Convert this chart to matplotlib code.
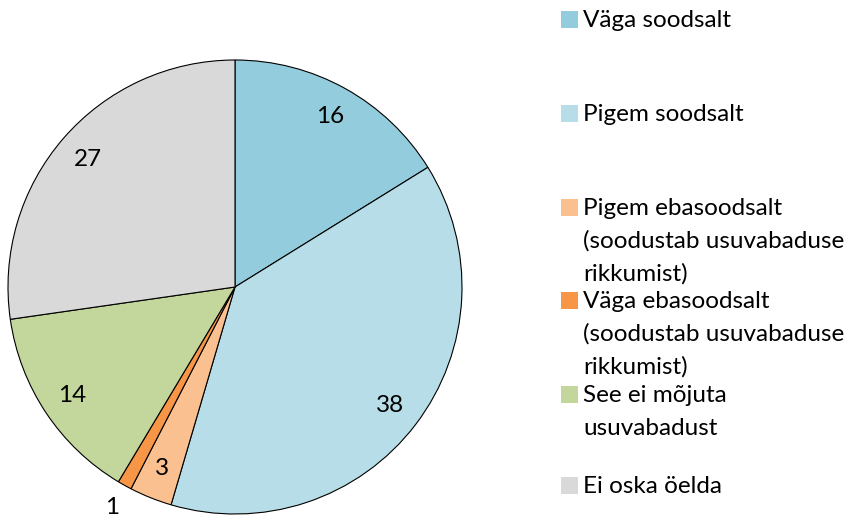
import numpy as np
import matplotlib.pyplot as plt
from matplotlib.patches import Rectangle

plt.rcParams['font.family'] = ['Lato', 'DejaVu Sans']

categories = ["Väga soodsalt", "Pigem soodsalt",
              "Pigem ebasoodsalt\n(soodustab usuvabaduse\nrikkumist)",
              "Väga ebasoodsalt\n(soodustab usuvabaduse\nrikkumist)",
              "See ei mõjuta\nusuvabadust", "Ei oska öelda"]
values = [16, 38, 3, 1, 14, 27]
colors = ["#93CDDD", "#B7DEE8", "#FAC090", "#F79646", "#C3D69B", "#D9D9D9"]

W, H = 854, 520
fig = plt.figure(figsize=(W / 100, H / 100), dpi=100)

# pie: center (235, 287) px, radius 227 px
cx, cy, r = 235, 287, 227
ax = fig.add_axes([(cx - r) / W, (H - cy - r) / H, 2 * r / W, 2 * r / H])
wedges, _ = ax.pie(values, colors=colors, startangle=90, counterclock=False,
                   radius=1, wedgeprops=dict(edgecolor="black", linewidth=0.8))
ax.set_xlim(-1, 1)
ax.set_ylim(-1, 1)
ax.set_aspect("equal")

# value labels
for w, v in zip(wedges, values):
    ang = np.deg2rad((w.theta1 + w.theta2) / 2)
    dist = 1.11 if v < 2 else 0.86
    ax.text(dist * np.cos(ang), dist * np.sin(ang), str(v),
            ha="center", va="center", fontsize=17.5, color="black")

# legend drawn manually (Excel-like spacing)
baselines = [27, 121, 215, 308, 402, 493]
step = 32.7
for lab, col, b in zip(categories, colors, baselines):
    fig.patches.append(Rectangle((561 / W, 1 - (b + 1) / H), 17 / W, 17 / H,
                                 transform=fig.transFigure, facecolor=col,
                                 edgecolor="none"))
    for i, line in enumerate(lab.split("\n")):
        fig.text(583 / W, 1 - (b + i * step) / H, line, fontsize=17.5,
                 va="baseline", ha="left", color="black")

fig.savefig("out.png", dpi=100)
